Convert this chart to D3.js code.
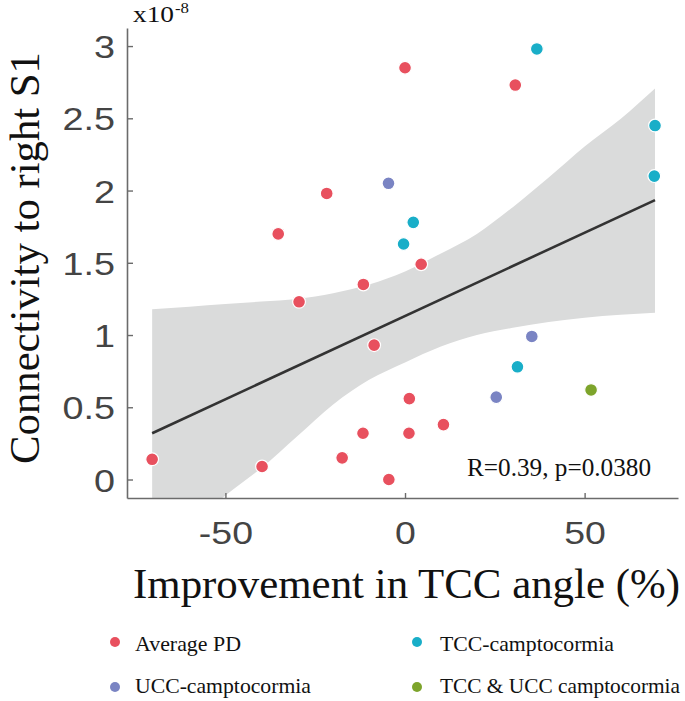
<!DOCTYPE html>
<html>
<head>
<meta charset="utf-8">
<script src="https://cdn.jsdelivr.net/npm/d3@7"></script>
<style>
  html, body { margin: 0; padding: 0; background: #fff; }
  svg { display: block; }
</style>
</head>
<body>
<svg id="chart" width="685" height="701"></svg>
<script>
// ---------- data ----------
const categories = ["Average PD", "TCC-camptocormia", "UCC-camptocormia", "TCC & UCC camptocormia"];
const categoryColors = ["#e8505e", "#19aec8", "#7a84c3", "#7da42b"];

const pdX   = [0, 30.7, -21.8, -35.3, 4.5, -11.6, -29.5, -8.6, 1.2, 10.7, -11.7, 1.1, -70.4, -17.5, -39.8, -4.5];
const pdY   = [2.85, 2.73, 1.98, 1.70, 1.49, 1.35, 1.23, 0.93, 0.56, 0.38, 0.32, 0.32, 0.14, 0.15, 0.09, 0.00];
const tccX  = [36.7, 69.6, 69.4, 2.3, -0.4, 31.3];
const tccY  = [2.98, 2.45, 2.10, 1.78, 1.63, 0.78];
const uccX  = [-4.6, 35.3, 25.4];
const uccY  = [2.05, 0.99, 0.57];
const bothX = [51.8];
const bothY = [0.62];

// regression line and confidence band
const fitX = [-70.4, 69.6];
const fitY = [0.32, 1.934];
const bandX     = [-70.4, -60, -50, -40, -30, -20, -10, 0, 10, 20, 30, 40, 50, 60, 69.6];
const bandUpper = [1.179, 1.196, 1.214, 1.232, 1.25, 1.29, 1.35, 1.44, 1.565, 1.70, 1.885, 2.09, 2.305, 2.495, 2.706];
const bandLower = [-0.54, -0.32, -0.11, 0.08, 0.30, 0.52, 0.69, 0.81, 0.92, 1.00, 1.05, 1.09, 1.12, 1.14, 1.155];

const xTicks = [-50, 0, 50];
const xTickLabels = ["-50", "0", "50"];
const yTicks = [0, 0.5, 1, 1.5, 2, 2.5, 3];
const yTickLabels = ["0", "0.5", "1", "1.5", "2", "2.5", "3"];

const xTitle = "Improvement in TCC angle (%)";
const yTitle = "Connectivity to right S1";
const statText = "R=0.39, p=0.0380";

// ---------- drawing ----------
const svg = d3.select("#chart");
const x = d3.scaleLinear().domain([-77.4, 76.0]).range([127, 678]);
const y = d3.scaleLinear().domain([-0.128, 3.125]).range([498, 28]);

const serif = "'Liberation Serif', 'Times New Roman', Times, serif";
const sans = "'Liberation Sans', Arial, Helvetica, sans-serif";

function stretch(sel, k) {
  sel.each(function () {
    const w = this.getComputedTextLength();
    this.setAttribute("textLength", w * k);
    this.setAttribute("lengthAdjust", "spacingAndGlyphs");
  });
}
function fitWidth(sel, w) {
  sel.attr("textLength", w).attr("lengthAdjust", "spacingAndGlyphs");
}

svg.append("defs").append("clipPath").attr("id", "plotclip")
  .append("rect")
  .attr("x", x.range()[0]).attr("y", y.range()[1])
  .attr("width", x.range()[1] - x.range()[0])
  .attr("height", y.range()[0] - y.range()[1]);

const plot = svg.append("g").attr("clip-path", "url(#plotclip)");

// confidence band
const bandData = bandX.map((v, i) => ({ x: v, lo: bandLower[i], hi: bandUpper[i] }));
plot.append("path")
  .datum(bandData)
  .attr("fill", "#dadbdb")
  .attr("d", d3.area().curve(d3.curveMonotoneX)
    .x(d => x(d.x)).y0(d => y(d.lo)).y1(d => y(d.hi)));

// regression line
plot.append("path")
  .datum(fitX.map((v, i) => [v, fitY[i]]))
  .attr("fill", "none")
  .attr("stroke", "#333")
  .attr("stroke-width", 2.6)
  .attr("d", d3.line().x(d => x(d[0])).y(d => y(d[1])));

// axes
const yAxis = svg.append("g")
  .attr("transform", `translate(${x.range()[0]},0)`)
  .call(d3.axisLeft(y).tickValues(yTicks).tickFormat((d, i) => yTickLabels[i])
    .tickSizeInner(-6).tickSizeOuter(0).tickPadding(12));
const xAxis = svg.append("g")
  .attr("transform", `translate(0,${y.range()[0]})`)
  .call(d3.axisBottom(x).tickValues(xTicks).tickFormat((d, i) => xTickLabels[i])
    .tickSizeInner(-5).tickSizeOuter(0).tickPadding(23));

[yAxis, xAxis].forEach(g => {
  g.select(".domain").attr("stroke", "#6b6b6b").attr("stroke-width", 1.6);
  g.selectAll(".tick line").attr("stroke", "#6b6b6b").attr("stroke-width", 1.4);
  g.selectAll(".tick text")
    .attr("fill", "#444")
    .style("font-family", sans)
    .style("font-size", "32px");
});
yAxis.selectAll(".tick text").attr("dy", "0.36em");
stretch(yAxis.selectAll(".tick text"), 1.18);
stretch(xAxis.selectAll(".tick text"), 1.17);

// scatter points
const groups = [
  { xs: pdX, ys: pdY, c: 0 },
  { xs: tccX, ys: tccY, c: 1 },
  { xs: uccX, ys: uccY, c: 2 },
  { xs: bothX, ys: bothY, c: 3 }
];
const pts = [];
groups.forEach(g => g.xs.forEach((v, i) => pts.push({ x: v, y: g.ys[i], c: g.c })));
svg.append("g").selectAll("circle")
  .data(pts).join("circle")
  .attr("cx", d => x(d.x))
  .attr("cy", d => y(d.y))
  .attr("r", 6.4)
  .attr("fill", d => categoryColors[d.c])
  .attr("stroke", "#fff")
  .attr("stroke-width", 1.2);

// multiplier label
svg.append("text").attr("x", 133).attr("y", 22)
  .style("font-family", serif).style("font-size", "23px").attr("fill", "#111")
  .text("x10").call(fitWidth, 41);
svg.append("text").attr("x", 175).attr("y", 13)
  .style("font-family", serif).style("font-size", "15px").attr("fill", "#111")
  .text("-8").call(fitWidth, 14);

// stat text
svg.append("text").attr("x", 467).attr("y", 476)
  .style("font-family", serif).style("font-size", "25.5px").attr("fill", "#111")
  .text(statText).call(fitWidth, 184);

// axis titles
svg.append("text").attr("x", 133).attr("y", 598)
  .style("font-family", serif).style("font-size", "43px").attr("fill", "#111")
  .text(xTitle).call(fitWidth, 547);
svg.append("text")
  .attr("transform", "translate(39,258) rotate(-90)")
  .attr("text-anchor", "middle")
  .style("font-family", serif).style("font-size", "43px").attr("fill", "#111")
  .text(yTitle).call(fitWidth, 412);

// legend
const legendPos = [
  { dx: 115, dy: 642, tx: 135, ty: 651, w: 106 },
  { dx: 417, dy: 642, tx: 440, ty: 651, w: 174 },
  { dx: 115, dy: 687, tx: 135, ty: 693, w: 176 },
  { dx: 417, dy: 687, tx: 440, ty: 693, w: 240 }
];
const leg = svg.append("g");
categories.forEach((name, i) => {
  const p = legendPos[i];
  leg.append("circle").attr("cx", p.dx).attr("cy", p.dy).attr("r", 5)
    .attr("fill", categoryColors[i]);
  leg.append("text").attr("x", p.tx).attr("y", p.ty)
    .style("font-family", serif).style("font-size", "21.5px").attr("fill", "#111")
    .text(name).call(fitWidth, p.w);
});
</script>
</body>
</html>
